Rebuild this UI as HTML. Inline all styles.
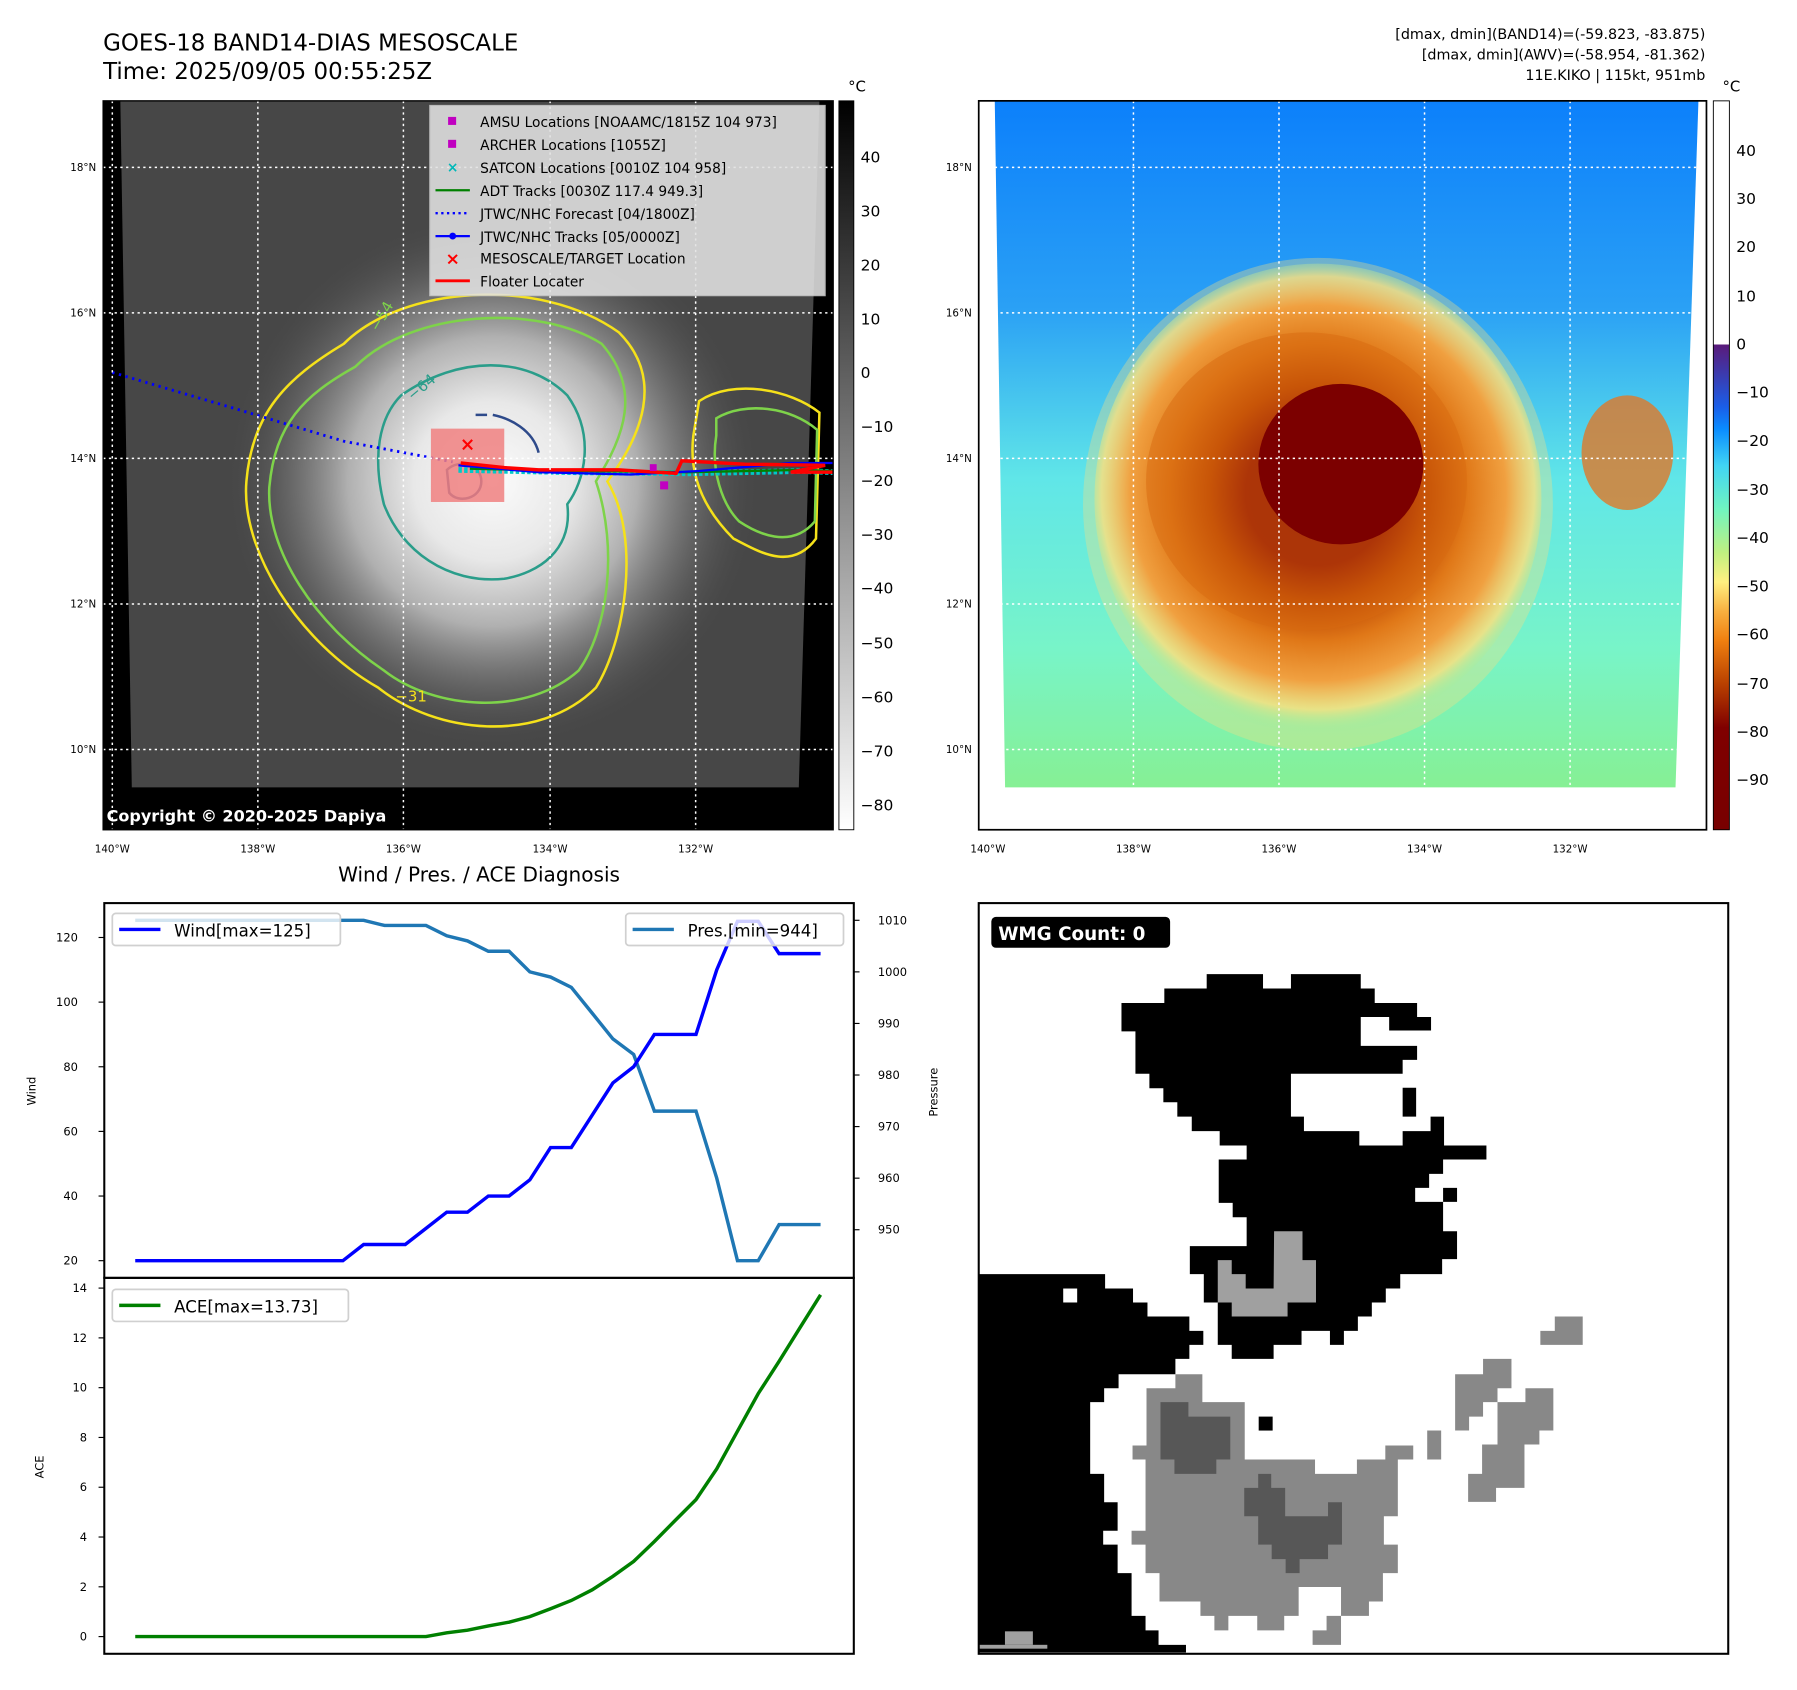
<!DOCTYPE html>
<html><head><meta charset="utf-8">
<style>
html,body{margin:0;padding:0;background:#fff;}
svg{display:block;font-family:"DejaVu Sans","Liberation Sans",sans-serif;}
</style></head>
<body>
<svg id="root" width="1797" height="1690" viewBox="0 0 1568 1474.6" preserveAspectRatio="none" xmlns="http://www.w3.org/2000/svg">
<defs>
  <radialGradient id="coreL" cx="430" cy="420" r="230" gradientUnits="userSpaceOnUse">
    <stop offset="0" stop-color="#fbfbfb"/><stop offset="0.3" stop-color="#e8e8e8"/>
    <stop offset="0.55" stop-color="#b0b0b0"/><stop offset="0.8" stop-color="#707070" stop-opacity="0.6"/>
    <stop offset="1" stop-color="#505050" stop-opacity="0"/>
  </radialGradient>
  <linearGradient id="cbL" x1="0" y1="0" x2="0" y2="1">
    <stop offset="0" stop-color="#000"/><stop offset="1" stop-color="#fff"/>
  </linearGradient>
  <linearGradient id="bgR" x1="0" y1="0" x2="0" y2="1">
    <stop offset="0" stop-color="#0c80fb"/><stop offset="0.3" stop-color="#2aa0f5"/>
    <stop offset="0.55" stop-color="#60e6e8"/><stop offset="0.8" stop-color="#78f4c8"/>
    <stop offset="1" stop-color="#86f094"/>
  </linearGradient>
  <radialGradient id="stormR" cx="1150" cy="430" r="210" gradientUnits="userSpaceOnUse">
    <stop offset="0" stop-color="#7a0000"/><stop offset="0.3" stop-color="#820000"/>
    <stop offset="0.45" stop-color="#b84000"/><stop offset="0.62" stop-color="#e07818"/>
    <stop offset="0.78" stop-color="#f0a040"/><stop offset="0.9" stop-color="#f8e080" stop-opacity="0.8"/>
    <stop offset="1" stop-color="#90f0a0" stop-opacity="0"/>
  </radialGradient>
  <linearGradient id="cbR" x1="0" y1="0" x2="0" y2="1">
    <stop offset="0" stop-color="#ffffff"/><stop offset="0.3342" stop-color="#ffffff"/>
    <stop offset="0.3343" stop-color="#5a1a7a"/><stop offset="0.42" stop-color="#1a5ee8"/>
    <stop offset="0.45" stop-color="#0a8cff"/><stop offset="0.5" stop-color="#40d4f4"/>
    <stop offset="0.56" stop-color="#70f4c0"/><stop offset="0.62" stop-color="#c0f080"/>
    <stop offset="0.66" stop-color="#fff080"/><stop offset="0.7" stop-color="#f8b040"/>
    <stop offset="0.74" stop-color="#f08010"/><stop offset="0.8" stop-color="#b84000"/>
    <stop offset="0.86" stop-color="#800000"/><stop offset="1" stop-color="#780000"/>
  </linearGradient>
</defs>

<!-- Titles -->
<text x="90" y="44" font-size="20">GOES-18 BAND14-DIAS MESOSCALE</text>
<text x="90" y="69" font-size="20">Time: 2025/09/05 00:55:25Z</text>
<g font-size="12.5" text-anchor="end">
  <text x="1488" y="34">[dmax, dmin](BAND14)=(-59.823, -83.875)</text>
  <text x="1488" y="52">[dmax, dmin](AWV)=(-58.954, -81.362)</text>
  <text x="1488" y="70">11E.KIKO | 115kt, 951mb</text>
</g>

<!-- LEFT MAP -->
<g>
  <rect x="90" y="88" width="637" height="636" fill="#000"/>
  <polygon points="105,88 715,88 697,687 115,687" fill="#474747"/>
  <polygon points="105,88 715,88 697,687 115,687" fill="url(#coreL)"/>
  <g fill="none" stroke-width="2.2">
    <path stroke="#f5e11a" d="M300,300 C350,250 470,240 540,290 C580,330 560,380 530,420 C560,470 545,560 520,600 C470,650 380,640 330,600 C260,560 210,480 215,420 C220,360 250,330 300,300 Z"/>
    <path stroke="#7ed34a" d="M310,320 C360,270 470,265 525,300 C560,340 545,380 520,420 C540,480 530,550 505,585 C460,625 380,620 335,585 C275,545 232,480 235,425 C240,370 265,345 310,320 Z"/>
    <path stroke="#2a9d8a" d="M350,345 C400,310 460,310 495,345 C520,380 510,420 495,440 C500,480 470,500 440,505 C390,510 350,480 335,440 C325,400 330,365 350,345 Z"/>
    <path stroke="#2e4a8a" d="M390,410 C400,400 420,405 420,420 C420,435 400,440 392,430 Z M430,362 C445,365 465,375 470,395 M415,362 L425,362"/>
    <path stroke="#f5e11a" d="M610,350 C640,330 690,340 715,360 L712,470 C690,500 660,480 640,470 C620,450 600,420 605,380 Z"/>
    <path stroke="#7ed34a" d="M625,365 C650,350 690,355 713,375 L711,455 C690,480 660,465 645,455 C630,440 620,410 625,380 Z"/>
  </g>
  <g font-size="13" fill="#2a9d8a">
    <text x="360" y="350" transform="rotate(-40 360 350)">−64</text>
    <text x="330" y="290" fill="#7ed34a" transform="rotate(-60 330 290)">−54</text>
    <text x="345" y="612" fill="#f5e11a">−31</text>
  </g>
  <polyline points="98,325 200,355 300,385 395,403" fill="none" stroke="#0000ff" stroke-width="2.5" stroke-dasharray="2,4"/>
  <rect x="376" y="374" width="64" height="64" fill="#f08080" opacity="0.85"/>
  <text x="408" y="393" font-size="16" fill="#ff0000" font-weight="bold" text-anchor="middle">×</text>
  <polyline points="400,410 500,412 600,413 700,411 727,412" fill="none" stroke="#00c8c8" stroke-width="5" stroke-dasharray="3,2"/>
  <polyline points="410,409 500,411 600,412 700,410 727,411" fill="none" stroke="#008000" stroke-width="2"/>
  <polyline points="400,406 470,412 550,414 610,411 690,404 727,404" fill="none" stroke="#0000ff" stroke-width="2"/>
  <polyline points="402,404 440,408 470,410 540,410 590,413 595,402 650,405 720,406 690,412 727,412" fill="none" stroke="#ff0000" stroke-width="3"/>
  <rect x="567" y="405" width="6" height="6" fill="#c000c0"/><rect x="576" y="420" width="7" height="7" fill="#c000c0"/>
  <g stroke="#fff" stroke-width="1.3" stroke-dasharray="2,3">
    <line x1="98" y1="88" x2="98" y2="724"/><line x1="225" y1="88" x2="225" y2="724"/><line x1="352" y1="88" x2="352" y2="724"/><line x1="480" y1="88" x2="480" y2="724"/><line x1="607" y1="88" x2="607" y2="724"/>
    <line x1="90" y1="146" x2="727" y2="146"/><line x1="90" y1="273" x2="727" y2="273"/><line x1="90" y1="400" x2="727" y2="400"/><line x1="90" y1="527" x2="727" y2="527"/><line x1="90" y1="654" x2="727" y2="654"/>
  </g>
  <rect x="90" y="88" width="637" height="636" fill="none" stroke="#000" stroke-width="1.2"/>
  <text x="93" y="717" font-size="14" font-weight="bold" fill="#fff">Copyright © 2020-2025 Dapiya</text>
  <g font-size="12">
    <rect x="375" y="92" width="345" height="166" fill="#e2e2e2" opacity="0.88" stroke="#ccc"/>
    <rect x="391" y="102" width="7" height="7" fill="#c000c0"/><text x="419" y="111">AMSU Locations [NOAAMC/1815Z 104 973]</text>
    <rect x="391" y="122" width="7" height="7" fill="#c000c0"/><text x="419" y="131">ARCHER Locations [1055Z]</text>
    <text x="395" y="150" fill="#00b8b8" text-anchor="middle" font-weight="bold">×</text><text x="419" y="151">SATCON Locations [0010Z 104 958]</text>
    <line x1="380" y1="166" x2="410" y2="166" stroke="#008000" stroke-width="2"/><text x="419" y="171">ADT Tracks [0030Z 117.4 949.3]</text>
    <line x1="380" y1="186" x2="410" y2="186" stroke="#0000ff" stroke-width="2" stroke-dasharray="2,3"/><text x="419" y="191">JTWC/NHC Forecast [04/1800Z]</text>
    <line x1="380" y1="206" x2="410" y2="206" stroke="#0000ff" stroke-width="2"/><circle cx="395" cy="206" r="3" fill="#0000ff"/><text x="419" y="211">JTWC/NHC Tracks [05/0000Z]</text>
    <text x="395" y="231" fill="#ff0000" text-anchor="middle" font-weight="bold" font-size="15">×</text><text x="419" y="230">MESOSCALE/TARGET Location</text>
    <line x1="380" y1="245" x2="410" y2="245" stroke="#ff0000" stroke-width="2.5"/><text x="419" y="250">Floater Locater</text>
  </g>
  <g font-size="9" text-anchor="end">
    <text x="84" y="149">18°N</text><text x="84" y="276">16°N</text><text x="84" y="403">14°N</text><text x="84" y="530">12°N</text><text x="84" y="657">10°N</text>
  </g>
  <g font-size="9" text-anchor="middle">
    <text x="98" y="744">140°W</text><text x="225" y="744">138°W</text><text x="352" y="744">136°W</text><text x="480" y="744">134°W</text><text x="607" y="744">132°W</text>
  </g>
</g>
<g>
  <rect x="732" y="88" width="13" height="636" fill="url(#cbL)" stroke="#000" stroke-width="0.8"/>
  <text x="740" y="80" font-size="13">°C</text>
  <g font-size="13.5">
    <text x="751" y="142">40</text><text x="751" y="189">30</text><text x="751" y="236">20</text><text x="751" y="283">10</text><text x="751" y="330">0</text>
    <text x="751" y="377">−10</text><text x="751" y="424">−20</text><text x="751" y="471">−30</text><text x="751" y="518">−40</text><text x="751" y="566">−50</text>
    <text x="751" y="613">−60</text><text x="751" y="660">−70</text><text x="751" y="707">−80</text>
  </g>
</g>

<!-- RIGHT MAP -->
<g>
  <rect x="854" y="88" width="635" height="636" fill="#fff"/>
  <polygon points="868,88 1482,88 1462,687 877,687" fill="url(#bgR)"/>
  <ellipse cx="1150" cy="440" rx="205" ry="215" fill="#f8e080" opacity="0.35"/>
  <ellipse cx="1150" cy="435" rx="195" ry="205" fill="url(#stormR)"/>
  <ellipse cx="1140" cy="420" rx="140" ry="130" fill="#d86a10" opacity="0.5"/>
  <ellipse cx="1170" cy="405" rx="72" ry="70" fill="#7c0000"/>
  <ellipse cx="1420" cy="395" rx="40" ry="50" fill="#e07828" opacity="0.8"/>
  <g stroke="#fff" stroke-width="1.3" stroke-dasharray="2,3">
    <line x1="862" y1="88" x2="862" y2="687"/><line x1="989" y1="88" x2="989" y2="687"/><line x1="1116" y1="88" x2="1116" y2="687"/><line x1="1243" y1="88" x2="1243" y2="687"/><line x1="1370" y1="88" x2="1370" y2="687"/>
    <line x1="868" y1="146" x2="1482" y2="146"/><line x1="868" y1="273" x2="1480" y2="273"/><line x1="868" y1="400" x2="1476" y2="400"/><line x1="868" y1="527" x2="1470" y2="527"/><line x1="868" y1="654" x2="1464" y2="654"/>
  </g>
  <rect x="854" y="88" width="635" height="636" fill="none" stroke="#000" stroke-width="1.5"/>
  <g font-size="9" text-anchor="end">
    <text x="848" y="149">18°N</text><text x="848" y="276">16°N</text><text x="848" y="403">14°N</text><text x="848" y="530">12°N</text><text x="848" y="657">10°N</text>
  </g>
  <g font-size="9" text-anchor="middle">
    <text x="862" y="744">140°W</text><text x="989" y="744">138°W</text><text x="1116" y="744">136°W</text><text x="1243" y="744">134°W</text><text x="1370" y="744">132°W</text>
  </g>
</g>
<g>
  <rect x="1495" y="88" width="14" height="636" fill="url(#cbR)" stroke="#000" stroke-width="0.8"/>
  <text x="1503" y="80" font-size="13">°C</text>
  <g font-size="13.5">
    <text x="1515" y="136">40</text><text x="1515" y="178">30</text><text x="1515" y="220">20</text><text x="1515" y="263">10</text><text x="1515" y="305">0</text>
    <text x="1515" y="347">−10</text><text x="1515" y="389">−20</text><text x="1515" y="432">−30</text><text x="1515" y="474">−40</text><text x="1515" y="516">−50</text>
    <text x="1515" y="558">−60</text><text x="1515" y="601">−70</text><text x="1515" y="643">−80</text><text x="1515" y="685">−90</text>
  </g>
</g>

<!-- CHART -->
<text x="418" y="769" font-size="17.5" text-anchor="middle">Wind / Pres. / ACE Diagnosis</text>
<g id="chart">
  <rect x="91" y="788" width="654" height="655" fill="#fff"/>
</g>
<text x="31" y="952" font-size="10" text-anchor="middle" transform="rotate(-90 31 952)">Wind</text>
<text x="818" y="953" font-size="10" text-anchor="middle" transform="rotate(-90 818 953)">Pressure</text>
<text x="38" y="1280" font-size="10" text-anchor="middle" transform="rotate(-90 38 1280)">ACE</text>

<!-- WMG PANEL -->
<g>
  <rect x="854" y="788" width="654" height="655" fill="#fff"/>
  <svg x="854.2" y="788.2" width="653.7" height="653.7" viewBox="0 0 1556 1556">
    <path fill="#000" d="M473,147 L590,147 590,177 648,177 648,147 793,147 793,177 822,177 822,207 910,207 910,236 939,236 939,264 852,264 852,236 793,236 793,296 910,296 910,325 880,325 880,354 648,354 648,443 675,443 675,473 790,473 790,503 880,503 880,473 938,473 938,443 966,443 966,503 1054,503 1054,532 964,532 964,562 935,562 935,591 906,591 906,620 964,620 964,681 993,681 993,739 962,739 962,770 875,770 875,800 845,800 845,829 816,829 816,858 787,858 787,888 758,888 758,917 729,917 729,888 670,888 670,917 612,917 612,946 525,946 525,917 496,917 496,829 467,829 467,770 438,770 438,712 556,712 556,652 527,652 527,622 498,622 498,532 556,532 556,503 500,503 500,473 442,473 442,443 412,443 412,413 383,413 383,384 354,384 354,354 325,354 325,266 296,266 296,207 385,207 385,177 473,177 Z M880,383 L908,383 908,443 880,443 Z M964,591 L993,591 993,620 964,620 Z"/>
    <path fill="#a0a0a0" d="M613,681 L672,681 672,741 700,741 700,829 641,829 641,858 525,858 525,829 496,829 496,741 525,741 525,770 554,770 554,800 612,800 Z"/>
    <path fill="#000" d="M0,770 L262,770 262,800 320,800 320,829 350,829 350,858 437,858 437,888 466,888 466,917 437,917 437,946 408,946 408,978 290,978 290,1007 260,1007 260,1036 231,1036 231,1185 260,1185 260,1244 288,1244 288,1303 258,1303 258,1332 288,1332 288,1391 317,1391 317,1480 346,1480 346,1510 373,1510 373,1540 430,1540 430,1556 0,1556 Z"/>
    <rect x="175" y="800" width="29" height="29" fill="#fff"/>
    <rect x="54" y="1512" width="58" height="28" fill="#a0a0a0"/><rect x="0" y="1540" width="142" height="8" fill="#a0a0a0"/>
    <path fill="#888" d="M408,978 L464,978 464,1036 552,1036 552,1155 698,1155 698,1185 785,1185 785,1155 844,1155 844,1126 902,1126 902,1155 870,1155 870,1273 841,1273 841,1332 870,1332 870,1391 839,1391 839,1450 810,1450 810,1480 752,1480 752,1540 693,1540 693,1510 722,1510 722,1480 752,1480 752,1420 664,1420 664,1480 634,1480 634,1510 578,1510 578,1480 518,1480 518,1510 489,1510 489,1480 460,1480 460,1450 375,1450 375,1391 346,1391 346,1332 317,1332 317,1303 346,1303 346,1155 319,1155 319,1126 348,1126 348,1007 408,1007 Z"/>
    <path fill="#575757" d="M377,1036 L435,1036 435,1066 522,1066 522,1155 493,1155 493,1185 406,1185 406,1155 377,1155 Z M580,1185 L607,1185 607,1214 636,1214 636,1273 725,1273 725,1244 754,1244 754,1332 725,1332 725,1362 666,1362 666,1391 637,1391 637,1362 608,1362 608,1332 580,1332 580,1273 551,1273 551,1214 580,1214 Z"/>
    <rect x="581" y="1066" width="29" height="29" fill="#000"/>
    <path fill="#888" d="M1196,858 L1254,858 1254,917 1166,917 1166,888 1196,888 Z M1047,946 L1106,946 1106,1007 1077,1007 1077,1036 1047,1036 1047,1066 1018,1066 1018,1095 989,1095 989,978 1047,978 Z M1135,1007 L1193,1007 1193,1095 1164,1095 1164,1124 1133,1124 1133,1214 1074,1214 1074,1243 1016,1243 1016,1185 1045,1185 1045,1124 1077,1124 1077,1036 1135,1036 Z M931,1095 L960,1095 960,1155 931,1155 Z"/>
  </svg>
  <rect x="854" y="788" width="654" height="655" fill="none" stroke="#000" stroke-width="1.8"/>
  <rect x="865" y="800" width="156" height="27" rx="4" fill="#000"/>
  <text x="871" y="820" font-size="16" font-weight="bold" fill="#fff">WMG Count: 0</text>
</g>

<script>
const steps = [0,1,2,3,4,5,6,7,8,9,10,11,12,13,14,15,16,17,18,19,20,21,22,23,24,25,26,27,28,29,30,31,32,33];
const windValues = [20,20,20,20,20,20,20,20,20,20,20,25,25,25,30,35,35,40,40,45,55,55,65,75,80,90,90,90,110,125,125,115,115,115];
const pressureValues = [1010,1010,1010,1010,1010,1010,1010,1010,1010,1010,1010,1010,1009,1009,1009,1007,1006,1004,1004,1000,999,997,992,987,984,973,973,973,960,944,944,951,951,951];
const aceValues = [0,0,0,0,0,0,0,0,0,0,0,0,0,0,0,0.15,0.26,0.43,0.58,0.8,1.12,1.45,1.88,2.42,3.02,3.82,4.67,5.5,6.74,8.25,9.76,11.06,12.4,13.73];
const windTicks = [20,40,60,80,100,120];
const pressureTicks = [950,960,970,980,990,1000,1010];
const aceTicks = [0,2,4,6,8,10,12,14];

const NS = 'http://www.w3.org/2000/svg';
const chart = document.getElementById('chart');
const xScale = i => 118 + i * (716 - 118) / 33;
const yWind = v => 1100 - (v - 20) * 2.82;
const yPres = v => 803 + (1010 - v) * 4.5;
const yAce = v => 1428 - v * 21.72;

function mk(tag, attrs, parent) {
  const el = document.createElementNS(NS, tag);
  for (const k in attrs) el.setAttribute(k, attrs[k]);
  (parent || chart).appendChild(el);
  return el;
}
function path(vals, yf) {
  return vals.map((v, i) => (i ? 'L' : 'M') + xScale(steps[i]).toFixed(1) + ',' + yf(v).toFixed(1)).join(' ');
}

const presLine = mk('path', {d: path(pressureValues, yPres), fill: 'none', stroke: '#1f77b4', 'stroke-width': 3});


const windLine = mk('path', {d: path(windValues, yWind), fill: 'none', stroke: '#0000ff', 'stroke-width': 3});


const aceLine = mk('path', {d: path(aceValues, yAce), fill: 'none', stroke: '#008000', 'stroke-width': 3});



windTicks.forEach(t => {
  const y = yWind(t);
  mk('line', {x1: 86, x2: 91, y1: y, y2: y, stroke: '#000'});
  const tx = mk('text', {x: 68, y: y + 3.5, 'font-size': 10, 'text-anchor': 'end'});
  
  
  tx.textContent = t;
});
pressureTicks.forEach(t => {
  const y = yPres(t);
  mk('line', {x1: 745, x2: 750, y1: y, y2: y, stroke: '#000'});
  const tx = mk('text', {x: 766, y: y + 3.5, 'font-size': 10});
  
  
  tx.textContent = t;
});
aceTicks.forEach(t => {
  const y = yAce(t);
  mk('line', {x1: 86, x2: 91, y1: y, y2: y, stroke: '#000'});
  const tx = mk('text', {x: 76, y: y + 3.5, 'font-size': 10, 'text-anchor': 'end'});
  
  
  tx.textContent = t;
});

mk('rect', {x: 91, y: 788, width: 654, height: 327, fill: 'none', stroke: '#000', 'stroke-width': 1.8});
mk('rect', {x: 91, y: 1115, width: 654, height: 328, fill: 'none', stroke: '#000', 'stroke-width': 1.8});

const lw = mk('g', {});


mk('rect', {x: 98, y: 797, width: 199, height: 28, rx: 3, fill: '#fff', 'fill-opacity': 0.8, stroke: '#d0d0d0', 'stroke-width': 1.5}, lw);
mk('line', {x1: 104, x2: 140, y1: 811, y2: 811, stroke: '#0000ff', 'stroke-width': 3}, lw);
mk('text', {x: 152, y: 817, 'font-size': 14.5}, lw).textContent = 'Wind[max=125]';

const lp = mk('g', {});


mk('rect', {x: 546, y: 797, width: 190, height: 28, rx: 3, fill: '#fff', 'fill-opacity': 0.8, stroke: '#d0d0d0', 'stroke-width': 1.5}, lp);
mk('line', {x1: 552, x2: 588, y1: 811, y2: 811, stroke: '#1f77b4', 'stroke-width': 3}, lp);
mk('text', {x: 600, y: 817, 'font-size': 14.5}, lp).textContent = 'Pres.[min=944]';

const la = mk('g', {});


mk('rect', {x: 98, y: 1125, width: 206, height: 28, rx: 3, fill: '#fff', 'fill-opacity': 0.8, stroke: '#d0d0d0', 'stroke-width': 1.5}, la);
mk('line', {x1: 104, x2: 140, y1: 1139, y2: 1139, stroke: '#008000', 'stroke-width': 3}, la);
mk('text', {x: 152, y: 1145, 'font-size': 14.5}, la).textContent = 'ACE[max=13.73]';
</script>
</svg>
</body></html>
